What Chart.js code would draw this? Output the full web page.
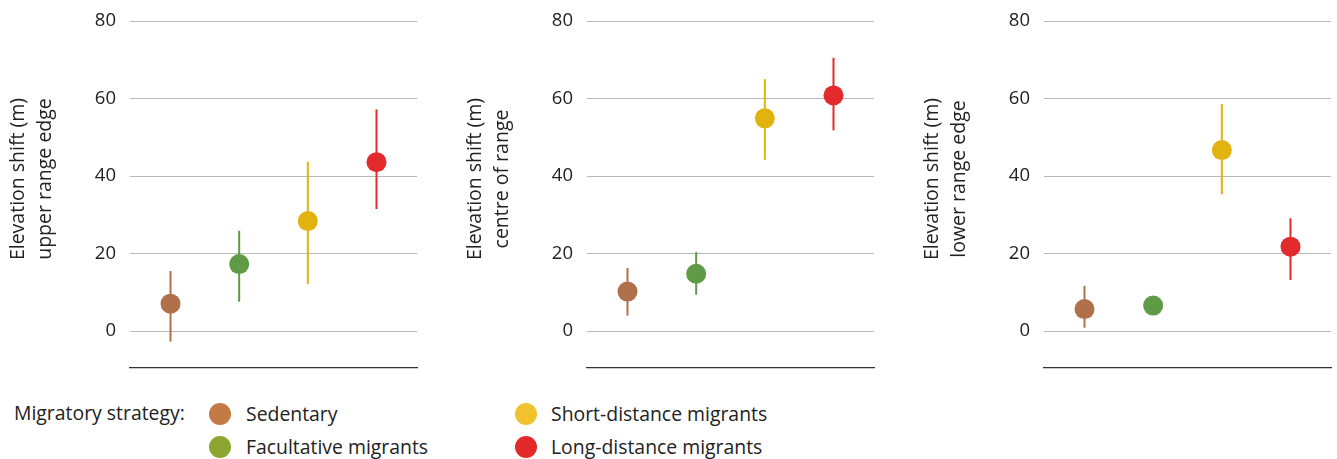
<!DOCTYPE html>
<html>
<head>
<meta charset="utf-8">
<script src="https://cdn.jsdelivr.net/npm/chart.js@4/dist/chart.umd.min.js"></script>
<style>
  html, body { margin: 0; padding: 0; background: #fff; }
  #wrap { position: relative; width: 1337px; height: 459px; overflow: hidden;
          font-family: "Open Sans", "Noto Sans", sans-serif; color: #222; }
  canvas { position: absolute; top: 0; }
  .lg { position: absolute; font-size: 19.4px; line-height: 24px; white-space: nowrap; }
  .dot { position: absolute; width: 22px; height: 22px; border-radius: 50%; }
</style>
</head>
<body>
<div id="wrap">
  <canvas id="c1" width="427" height="380" style="left:0px"></canvas>
  <canvas id="c2" width="427" height="380" style="left:457px"></canvas>
  <canvas id="c3" width="427" height="380" style="left:914px"></canvas>
  <div id="legend"></div>
</div>
<script>
// Migratory strategy groups (x order in every panel)
const categories = ['Sedentary', 'Facultative migrants', 'Short-distance migrants', 'Long-distance migrants'];

// Elevation shift (m): mean with lower / upper interval bounds
const upperEdgeMean = [7.1, 17.3, 28.4, 43.6];
const upperEdgeLow  = [-2.7, 7.6, 12.2, 31.5];
const upperEdgeHigh = [15.5, 25.9, 43.7, 57.2];

const centreMean = [10.2, 14.8, 54.9, 60.8];
const centreLow  = [4.0, 9.4, 44.2, 51.8];
const centreHigh = [16.3, 20.4, 65.0, 70.5];

const lowerEdgeMean = [5.7, 6.6, 46.7, 21.8];
const lowerEdgeLow  = [0.9, null, 35.3, 13.2];
const lowerEdgeHigh = [11.7, null, 58.6, 29.1];

const tickValues = [0, 20, 40, 60, 80];

const panelTitles = [
  ['Elevation shift (m)', 'upper range edge'],
  ['Elevation shift (m)', 'centre of range'],
  ['Elevation shift (m)', 'lower range edge']
];

const markerColors = ['#b0704a', '#5f9a46', '#e2b20f', '#e32a2d'];
const legendColors = ['#c47a45', '#8da62f', '#f0c22e', '#e32a2a'];
const legendTitle = 'Migratory strategy:';

const FONT = '"Open Sans", "Noto Sans", sans-serif';

// Two-line rotated axis title drawn beside the value ticks
const axisTitlePlugin = {
  id: 'axisTitle',
  afterDraw(chart, args, opts) {
    const ctx = chart.ctx;
    ctx.save();
    ctx.fillStyle = '#222';
    ctx.font = '19.5px ' + FONT;
    ctx.textAlign = 'center';
    ctx.textBaseline = 'middle';
    ctx.translate(0, opts.centerY);
    ctx.rotate(-Math.PI / 2);
    opts.lines.forEach((line, i) => {
      ctx.fillText(line, 0, opts.x[i]);
    });
    ctx.restore();
  }
};

function buildPanel(id, mean, low, high, title) {
  const datasets = [];
  // markers on top
  datasets.push({
    type: 'scatter',
    data: mean.map((v, i) => ({ x: i, y: v })),
    pointRadius: 10,
    pointBorderWidth: 0,
    pointBackgroundColor: markerColors,
    order: 0
  });
  // interval whiskers
  categories.forEach((c, i) => {
    if (low[i] === null || high[i] === null) return;
    datasets.push({
      type: 'line',
      data: [{ x: i, y: low[i] }, { x: i, y: high[i] }],
      borderColor: markerColors[i],
      borderWidth: 2,
      pointRadius: 0,
      fill: false,
      order: 1
    });
  });

  new Chart(document.getElementById(id), {
    type: 'scatter',
    data: { datasets },
    options: {
      responsive: false,
      animation: false,
      events: [],
      layout: { padding: { top: 21, bottom: 12, left: 0, right: 3 } },
      plugins: {
        legend: { display: false },
        tooltip: { enabled: false },
        axisTitle: { lines: title, centerY: 179, x: [18, 45] }
      },
      scales: {
        x: {
          type: 'linear',
          min: -0.59,
          max: 3.59,
          ticks: { display: false },
          grid: { display: false, drawTicks: false },
          border: { display: true, color: '#333', width: 1.3 }
        },
        y: {
          type: 'linear',
          min: -9.5,
          max: 80,
          afterBuildTicks: s => { s.ticks = tickValues.map(v => ({ value: v })); },
          afterFit: s => { s.width = 130; s.paddingTop = 0; s.paddingBottom = 0; },
          ticks: {
            padding: 14,
            color: '#222',
            font: { family: FONT, size: 18.5 }
          },
          grid: { color: '#b8b8b8', lineWidth: 1, drawTicks: false },
          border: { display: false }
        }
      }
    },
    plugins: [axisTitlePlugin]
  });
}

buildPanel('c1', upperEdgeMean, upperEdgeLow, upperEdgeHigh, panelTitles[0]);
buildPanel('c2', centreMean, centreLow, centreHigh, panelTitles[1]);
buildPanel('c3', lowerEdgeMean, lowerEdgeLow, lowerEdgeHigh, panelTitles[2]);

// Legend below the panels
const legend = document.getElementById('legend');
const legendSlots = [
  { dotX: 220, textX: 246, y: 414 },
  { dotX: 220, textX: 246, y: 447 },
  { dotX: 526, textX: 551, y: 414 },
  { dotX: 526, textX: 551, y: 447 }
];
const head = document.createElement('div');
head.className = 'lg';
head.style.left = '14px';
head.style.top = (413 - 12) + 'px';
head.textContent = legendTitle;
legend.appendChild(head);
categories.forEach((c, i) => {
  const s = legendSlots[i];
  const d = document.createElement('div');
  d.className = 'dot';
  d.style.left = (s.dotX - 11) + 'px';
  d.style.top = (s.y - 11) + 'px';
  d.style.background = legendColors[i];
  legend.appendChild(d);
  const t = document.createElement('div');
  t.className = 'lg';
  t.style.left = s.textX + 'px';
  t.style.top = (s.y - 12) + 'px';
  t.textContent = c;
  legend.appendChild(t);
});
</script>
</body>
</html>
